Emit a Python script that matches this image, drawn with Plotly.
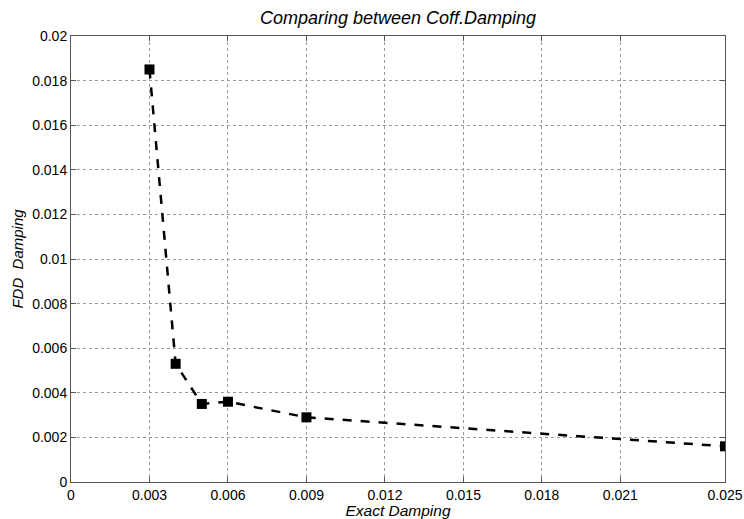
import plotly.graph_objects as go

exact_damping = [0.003, 0.004, 0.005, 0.006, 0.009, 0.025]
fdd_damping = [0.0185, 0.0053, 0.0035, 0.0036, 0.0029, 0.0016]

x_ticks = [0, 0.003, 0.006, 0.009, 0.012, 0.015, 0.018, 0.021, 0.025]
x_tick_text = ["0", "0.003", "0.006", "0.009", "0.012", "0.015", "0.018", "0.021", "0.025"]
y_ticks = [0, 0.002, 0.004, 0.006, 0.008, 0.01, 0.012, 0.014, 0.016, 0.018, 0.02]
y_tick_text = ["0", "0.002", "0.004", "0.006", "0.008", "0.01", "0.012", "0.014", "0.016", "0.018", "0.02"]

font = "Liberation Sans, Arial, sans-serif"

fig = go.Figure()
fig.add_trace(go.Scatter(
    x=exact_damping, y=fdd_damping, mode="lines+markers",
    line=dict(color="black", width=2.5, dash="dash"),
    marker=dict(symbol="square", size=10, color="black"),
    showlegend=False,
))

axis_common = dict(
    showline=True, linecolor="#555555", linewidth=1, mirror="ticks",
    ticks="inside", ticklen=5, tickcolor="#555555",
    showgrid=True, gridcolor="#9a9a9a", griddash="dot", gridwidth=1,
    zeroline=False, automargin=False,
    tickfont=dict(family=font, size=14, color="black"),
)

fig.update_layout(
    width=744, height=519,
    paper_bgcolor="white", plot_bgcolor="white",
    margin=dict(l=71, r=19, t=36, b=37),
    title=dict(text="<i>Comparing between Coff.Damping</i>", xref="paper", x=0.5, xanchor="center",
               yref="container", y=0.965, yanchor="middle",
               font=dict(family=font, size=18, color="black")),
    xaxis=dict(range=[0, 0.025], tickvals=x_ticks, ticktext=x_tick_text,
               title=dict(text="<i>Exact Damping</i>", font=dict(family=font, size=15.5, color="black"), standoff=0),
               **axis_common),
    yaxis=dict(range=[0, 0.02], tickvals=y_ticks, ticktext=y_tick_text,
               title=dict(text="<i>FDD  Damping</i>", font=dict(family=font, size=15, color="black"), standoff=4),
               **axis_common),
)

fig.write_html("out.html")
